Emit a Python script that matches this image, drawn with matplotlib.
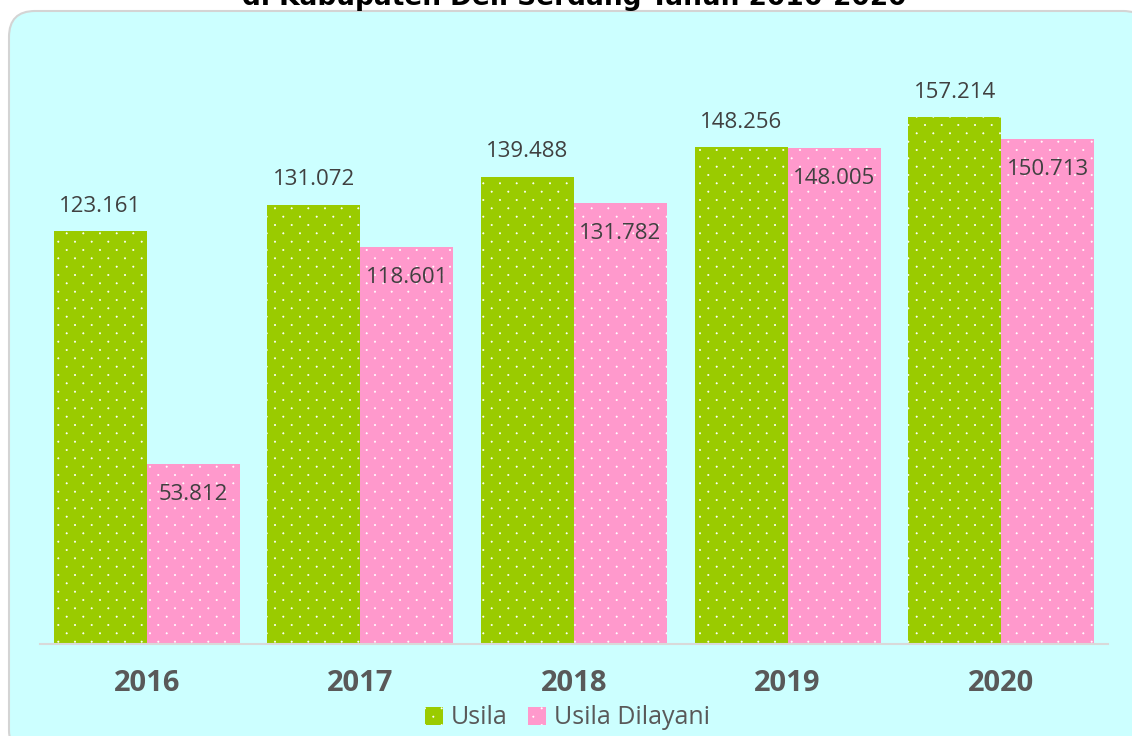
import numpy as np
import matplotlib as mpl
import matplotlib.pyplot as plt
import matplotlib.hatch as mhatch
from matplotlib.path import Path
from matplotlib.patches import FancyBboxPatch
from matplotlib.transforms import IdentityTransform

years = ['2016', '2017', '2018', '2019', '2020']
usila = [123.161, 131.072, 139.488, 148.256, 157.214]
usila_dilayani = [53.812, 118.601, 131.782, 148.005, 150.713]
title = 'di Kabupaten Deli Serdang Tahun 2016-2020'

green = '#9ACB00'
pink = '#FF99CC'
bg = '#CCFFFF'
txt = '#404040'
ytxt = '#595959'


class FineDots(mhatch.HatchPatternBase):
    # small dots on a staggered grid, rows twice as tight as columns
    def __init__(self, hatch, density):
        circ = Path.unit_circle()
        self.cv, self.cc = circ.vertices, circ.codes
        ncol = hatch.count('.') * density
        nrow = 2 * ncol
        self.pts = []
        for r in range(nrow + 1 if ncol else 0):
            if r % 2 == 0:
                cols = np.linspace(0, 1, ncol + 1)
            else:
                cols = np.linspace(0.5 / ncol, 1 - 0.5 / ncol, ncol)
            self.pts += [(c, r / nrow) for c in cols]
        self.num_vertices = len(self.pts) * len(self.cv)

    def set_vertices_and_codes(self, vertices, codes):
        n = len(self.cv)
        shape = self.cv * 0.007
        for i, (px, py) in enumerate(self.pts):
            vertices[i * n:(i + 1) * n] = shape + (px, py)
            codes[i * n:(i + 1) * n] = self.cc


mhatch._hatch_types = [FineDots if h is mhatch.SmallFilledCircles else h
                       for h in mhatch._hatch_types]

mpl.rcParams['hatch.color'] = 'white'
mpl.rcParams['hatch.linewidth'] = 0.4
mpl.rcParams['font.family'] = ['Open Sans', 'DejaVu Sans']

W, H = 1132, 736
fig = plt.figure(figsize=(W / 100, H / 100), dpi=100, facecolor='white')

# rounded panel behind the chart (pixel coords)
panel = FancyBboxPatch((9, -20), 1140, H - 11 + 20,
                       boxstyle='round,pad=0,rounding_size=26',
                       transform=IdentityTransform(), facecolor=bg,
                       edgecolor='#D4D4D4', linewidth=1.5, zorder=-5)
fig.patches.append(panel)

fig.text(0.507, 1 - 5 / H, title, ha='center', va='baseline',
         fontsize=19, fontweight='bold', color='black', family='DejaVu Sans')

# plot area: baseline at y=644px, 3.35 px per unit
ax_left, ax_right = 40, 1108
ax_bottom, ax_top = 644, 70
ax = fig.add_axes([ax_left / W, (H - ax_bottom) / H,
                   (ax_right - ax_left) / W, (ax_bottom - ax_top) / H])
ax.set_zorder(1)
ax.patch.set_alpha(0)
ax.set_xlim(-0.5, 4.5)
ax.set_ylim(0, (ax_bottom - ax_top) / 3.35)

x = np.arange(len(years))
bw = 0.435
# white edgecolor with zero width -> only the dotted hatch shows in white
b1 = ax.bar(x - bw / 2, usila, bw, color=green, edgecolor='white',
            linewidth=0, hatch='.', label='Usila', zorder=2)
b2 = ax.bar(x + bw / 2, usila_dilayani, bw, color=pink, edgecolor='white',
            linewidth=0, hatch='.', label='Usila Dilayani', zorder=2)

for xi, v in zip(x, usila):
    ax.annotate(f'{v:.3f}', (xi - bw / 2, v), xytext=(0, 18),
                textcoords='offset points', ha='center', va='center',
                fontsize=16, color=txt)
for xi, v in zip(x, usila_dilayani):
    ax.annotate(f'{v:.3f}', (xi + bw / 2, v), xytext=(0, -22),
                textcoords='offset points', ha='center', va='center',
                fontsize=16, color=txt, zorder=3)

for s in ['top', 'right', 'left']:
    ax.spines[s].set_visible(False)
ax.spines['bottom'].set_color('#D9D9D9')
ax.spines['bottom'].set_linewidth(1.5)
ax.set_yticks([])
ax.set_xticks(x)
ax.set_xticklabels(years, fontsize=21, fontweight='bold', color=ytxt)
ax.tick_params(axis='x', length=0, pad=18)

leg = fig.legend(handles=[b1, b2], loc='center', ncol=2,
                 bbox_to_anchor=(0.501, 1 - 718 / H), frameon=False,
                 fontsize=18, handlelength=0.75, handleheight=0.75,
                 handletextpad=0.3, columnspacing=0.8)
for t in leg.get_texts():
    t.set_color(ytxt)

fig.savefig('out.png', dpi=100, facecolor='white')
